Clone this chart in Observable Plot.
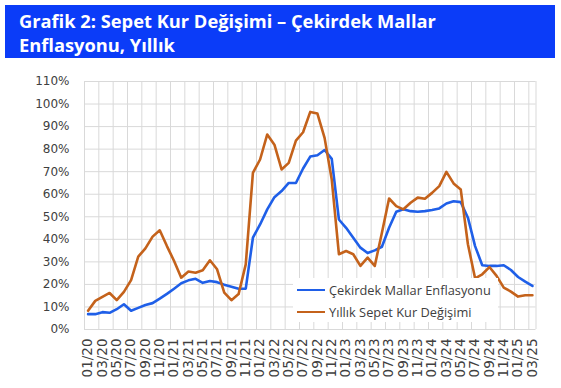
<!DOCTYPE html>
<html>
<head>
<meta charset="utf-8">
<script src="https://cdn.jsdelivr.net/npm/d3@7"></script>
<script src="https://cdn.jsdelivr.net/npm/@observablehq/plot@0.6"></script>
<style>
  html, body { margin: 0; padding: 0; background: white; }
  #wrap { position: relative; width: 561px; height: 388px; overflow: hidden; background: white; }
  #banner { position: absolute; left: 5px; top: 5px; width: 550px; height: 53px; background: #0b3cf8; }
  #banner div { position: absolute; left: 14px; color: white; font-family: "Open Sans", sans-serif; font-weight: 700; font-size: 18.3px; white-space: nowrap; letter-spacing: 0; }
  #chart { position: absolute; left: 0; top: 60px; }
  #legend { position: absolute; left: 293px; top: 278px; width: 205px; height: 44px; background: white; font-family: "Open Sans", sans-serif; font-size: 12.8px; color: #404040; }
  .item { position: absolute; left: 4px; height: 16px; display: flex; align-items: center; white-space: nowrap; }
  .sw { width: 28px; height: 2.5px; margin-right: 4px; }
</style>
</head>
<body>
<div id="wrap">
  <div id="banner">
    <div id="t1" style="top: 3px;">Grafik 2: Sepet Kur Değişimi – Çekirdek Mallar</div>
    <div id="t2" style="top: 27px;">Enflasyonu, Yıllık</div>
  </div>
  <div id="chart"></div>
  <div id="legend"></div>
</div>
<script>
// Tick labels (every two months, 01/20 … 03/25)
const tickLabels = ["01/20","03/20","05/20","07/20","09/20","11/20",
  "01/21","03/21","05/21","07/21","09/21","11/21",
  "01/22","03/22","05/22","07/22","09/22","11/22",
  "01/23","03/23","05/23","07/23","09/23","11/23",
  "01/24","03/24","05/24","07/24","09/24","11/24",
  "01/25","03/25"];

// Monthly series, 01/20 … 03/25 (%)
const coreGoods = [6.8,6.8,7.7,7.4,9.0,11.2,8.3,9.6,10.9,11.7,13.7,15.8,
  18.1,20.5,21.8,22.5,20.7,21.5,21.0,19.9,19.0,18.1,18.1,40.7,
  46.6,53.3,58.7,61.4,65.0,65.0,71.4,76.7,77.3,79.6,75.7,48.8,
  45.1,40.7,36.3,33.9,35.1,36.7,45.1,52.2,53.3,52.5,52.2,52.5,
  53.0,53.7,55.9,56.9,56.5,49.6,37.0,28.5,28.2,28.2,28.5,26.4,
  23.3,21.2,19.3];
const basketFx = [8.3,12.7,14.5,16.2,13.0,16.7,21.9,32.3,36.0,41.2,44.0,37.0,
  30.4,23.0,25.7,25.2,26.3,30.7,26.7,16.4,13.0,15.7,28.9,69.5,
  75.4,86.5,82.0,71.0,73.9,83.8,87.5,96.5,95.8,85.0,66.5,33.4,
  34.8,33.4,28.2,31.9,28.2,42.9,58.1,54.7,53.3,56.2,58.5,58.0,
  60.6,63.6,69.9,64.8,62.1,37.8,22.7,24.5,27.7,23.8,18.6,16.8,
  14.6,15.2,15.2];

const seriesNames = ["Çekirdek Mallar Enflasyonu", "Yıllık Sepet Kur Değişimi"];
const seriesColors = ["#1f5fe8", "#c4621b"];
const yTicks = [0,10,20,30,40,50,60,70,80,90,100,110];

const n = coreGoods.length;
const tickIdx = tickLabels.map((_, k) => 2 * k);
const gridX = tickIdx.map(i => i - 0.5).concat([n - 0.5]);

const rows = [];
coreGoods.forEach((v, i) => rows.push({i, v, s: seriesNames[0]}));
basketFx.forEach((v, i) => rows.push({i, v, s: seriesNames[1]}));

const chart = Plot.plot({
  width: 561,
  height: 328,
  marginTop: 21,
  marginBottom: 59,
  marginLeft: 84,
  marginRight: 25.5,
  style: {fontFamily: "DejaVu Sans", fontSize: "12px", color: "#404040", background: "white"},
  x: {type: "linear", domain: [-0.5, n - 0.5]},
  y: {domain: [0, 110]},
  color: {domain: seriesNames, range: seriesColors},
  marks: [
    Plot.ruleX(gridX, {stroke: "#d9d9d9", strokeWidth: 1}),
    Plot.ruleY(yTicks, {stroke: "#d9d9d9", strokeWidth: 1}),
    Plot.axisY({ticks: yTicks, tickSize: 0, tickPadding: 15, tickFormat: d => d + "%", label: null, fill: "#404040"}),
    Plot.axisX({ticks: tickIdx, tickSize: 0, tickPadding: 9, tickRotate: -90, tickFormat: i => tickLabels[i / 2], label: null, fontSize: 13.5, fill: "#404040"}),
    Plot.line(rows, {x: "i", y: "v", z: "s", stroke: "s", strokeWidth: 2.6, strokeLinejoin: "round", strokeLinecap: "round"})
  ]
});
document.getElementById("chart").appendChild(chart);

const legend = document.getElementById("legend");
seriesNames.forEach((name, k) => {
  const it = document.createElement("div");
  it.className = "item";
  it.style.top = (4 + k * 22) + "px";
  const sw = document.createElement("span");
  sw.className = "sw";
  sw.style.background = seriesColors[k];
  const tx = document.createElement("span");
  tx.textContent = name;
  it.appendChild(sw);
  it.appendChild(tx);
  legend.appendChild(it);
});
</script>
</body>
</html>
